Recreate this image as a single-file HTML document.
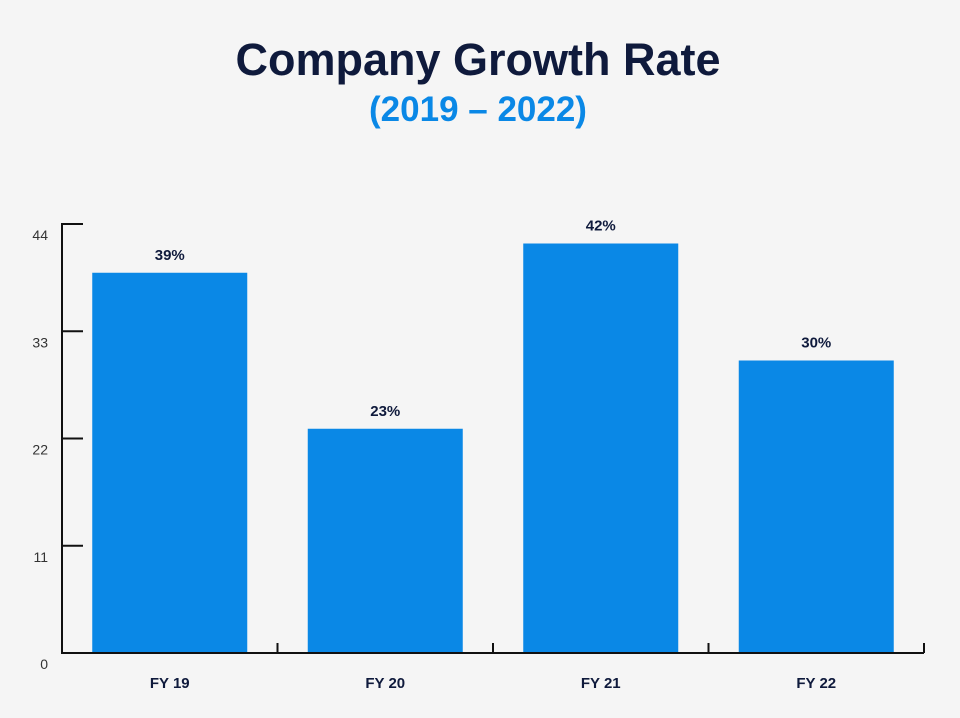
<!DOCTYPE html>
<html><head><meta charset="utf-8"><style>
body{margin:0;width:960px;height:713px;background:#f5f5f5;overflow:hidden;font-family:"Liberation Sans",sans-serif}
</style></head><body>
<svg width="960" height="713">
<text x="478" y="75" text-anchor="middle" font-size="45" font-weight="bold" fill="#0f1a3c">Company Growth Rate</text>
<text x="478" y="121" text-anchor="middle" font-size="35" font-weight="bold" fill="#0a88e6">(2019 – 2022)</text>
<g id="plot"></g>
</svg>
<script>
const categories=["FY 19","FY 20","FY 21","FY 22"];
const values=[39,23,42,30];
const valueLabels=["39%","23%","42%","30%"];
const yTicks=[0,11,22,33,44];
const X0=62,X1=924,Y0=653,YT=224,YMAX=44;
const y=v=>Y0-(v/YMAX)*(Y0-YT);
const band=(X1-X0)/categories.length;
const x=i=>X0+i*band;
const ns="http://www.w3.org/2000/svg";
const g=document.getElementById('plot');
function mk(t,a){const e=document.createElementNS(ns,t);for(const k in a)e.setAttribute(k,a[k]);g.appendChild(e);return e;}
categories.forEach((c,i)=>{
 const bw=155,bx=x(i)+(band-bw)/2;
 const r=mk('rect',{x:bx,y:y(values[i]),width:bw,height:Y0-y(values[i]),fill:'#0a88e6'});
 
 
 const t=mk('text',{x:bx+bw/2,y:y(values[i])-13,'text-anchor':'middle','font-size':'15','font-weight':'bold',fill:'#0f1a3c'});
 t.textContent=valueLabels[i];
 
 
 const l=mk('text',{x:bx+bw/2,y:688,'text-anchor':'middle','font-size':'15','font-weight':'bold',fill:'#0f1a3c'});
 l.textContent=c;
 
 
 const tk=mk('line',{x1:x(i+1),x2:x(i+1),y1:Y0,y2:Y0-10,stroke:'#111','stroke-width':2});
 
 
});
yTicks.forEach(v=>{
 const tk=mk('line',{x1:X0,x2:X0+21,y1:y(v),y2:y(v),stroke:'#111','stroke-width':2});
 
 
 const t=mk('text',{x:48,y:y(v)+16,'text-anchor':'end','font-size':'14',fill:'#333'});
 t.textContent=v;
 
 
});
const ya=mk('line',{x1:X0,x2:X0,y1:YT-1,y2:Y0+1,stroke:'#111','stroke-width':2});


const xa=mk('line',{x1:X0,x2:X1,y1:Y0,y2:Y0,stroke:'#111','stroke-width':2});


</script>
</body></html>
